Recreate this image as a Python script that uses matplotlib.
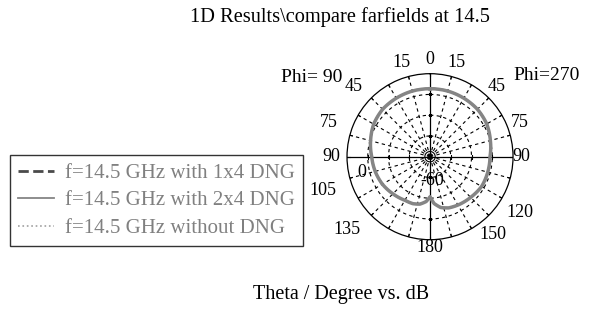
import numpy as np
import matplotlib
matplotlib.use("Agg")
import matplotlib.pyplot as plt

plt.rcParams['font.family'] = ['Liberation Serif', 'DejaVu Serif']

# theta (deg) and farfield level (dB), both half-planes
theta = [0, 15, 30, 45, 60, 75, 90, 105, 120, 135, 150, 160, 168, 175, 180]
phi270_db = [5.5, 5.5, 5.1, 4.6, 3.1, 0.2, -2.2, -2.4, -2.6, -4.6, -6.2, -7.5, -9.9, -14.7, -21.4]
phi90_db = [5.5, 5.5, 5.1, 4.6, 2.7, -0.7, -3.8, -5.3, -7.0, -9.4, -11.5, -11.8, -13.3, -16.6, -21.4]

labels = ["f=14.5 GHz with 1x4 DNG", "f=14.5 GHz with 2x4 DNG", "f=14.5 GHz without DNG"]
styles = [("--", "#4a4a4a", 1.5), ("-", "#858585", 2.5), (":", "#a0a0a0", 1.2)]
legend_lw = [2.0, 1.3, 1.2]

angle_labels = ["0", "15", "15", "45", "45", "75", "75", "90", "90",
                "105", "120", "135", "150", "180"]
angle_pos = [(0, 33.5), (343.2, 34.6), (15.9, 34.2), (312.3, 40.2), (43.6, 33.2),
             (288.6, 42.7), (69.3, 32.7), (270, 34.8), (90, 28.4),
             (252.5, 48), (121.9, 42.2), (228.8, 46.8), (141, 36.7), (180, 27.7)]

rmin, rmax = -60, 20

fig = plt.figure(figsize=(5.94, 3.13), dpi=100)
ax = fig.add_axes([0.5842, 0.2342, 0.2795, 0.5304], projection="polar")
ax.set_theta_zero_location("N")
ax.set_theta_direction(-1)
ax.set_ylim(rmin, rmax)
ax.grid(False)
ax.set_xticks([])
ax.set_yticks([])
ax.spines["polar"].set_linewidth(0.9)

# dashed grid
full = np.linspace(0, 2 * np.pi, 361)
dash = (0, (3, 3))
for rr in [-40, -20, 0]:
    ax.plot(full, np.full_like(full, rr), ls=dash, color="k", lw=0.8)
for a in range(0, 360, 15):
    if a % 90:
        ax.plot([np.radians(a)] * 2, [rmin, rmax], ls=dash, color="k", lw=0.8)
    ax.plot([np.radians(a)] * 2, [rmax - 2.5, rmax], color="k", lw=0.8)
# solid axes through the centre
for a in [0, 90, 180, 270]:
    ax.plot([np.radians(a)] * 2, [rmin, rmax], color="k", lw=0.9)
for a, m in [(0, "_"), (180, "_"), (90, "|"), (270, "|")]:
    ax.plot([np.radians(a)] * 3, [-40, -20, 0], ls="none", marker=m, ms=3,
            color="k", mew=0.8)
ax.plot(full, np.full_like(full, -55), color="k", lw=0.8)

# curves: right side phi=270 (clockwise), left side phi=90
th = np.array(theta, dtype=float)
ang = np.radians(np.concatenate([th, 360 - th[::-1]]))
vals = np.concatenate([phi270_db, phi90_db[::-1]])
for i in [0, 2, 1]:
    ls, c, lw = styles[i]
    ln, = ax.plot(ang, vals, ls=ls, color=c, lw=lw, label=labels[i],
                  zorder=5 + (i == 1))
    ln.get_path()._interpolation_steps = 40   # draw segments as polar arcs

for t, (a, r) in zip(angle_labels, angle_pos):
    ax.text(np.radians(a), r, t, ha="center", va="center", fontsize=13, clip_on=False)
ax.text(np.radians(256.6), 7.7, "0", ha="center", va="center", fontsize=13)
ax.text(np.radians(175), -37.4, "-60", ha="center", va="center", fontsize=13)

fig.text(281 / 594, 1 - 77 / 313, "Phi= 90", ha="left", va="center", fontsize=14)
fig.text(513 / 594, 1 - 75 / 313, "Phi=270", ha="left", va="center", fontsize=14)

fig.text(340 / 594, 1 - 17 / 313, "1D Results\\compare farfields at 14.5",
         ha="center", va="center", fontsize=14.7)
fig.text(341 / 594, 1 - 295 / 313, "Theta / Degree vs. dB",
         ha="center", va="center", fontsize=14.5)

handles, labs = ax.get_legend_handles_labels()
idx = [labs.index(l) for l in labels]
leg = fig.legend([handles[i] for i in idx], labels, loc="upper left",
                 bbox_to_anchor=(10 / 594, 1 - 155 / 313), borderaxespad=0,
                 fontsize=15, frameon=True, fancybox=False, edgecolor="k",
                 handlelength=1.7, handletextpad=0.55, labelspacing=0.38,
                 borderpad=0.4, labelcolor="#808080")
leg.get_frame().set_linewidth(1.0)
for ln, w in zip(leg.get_lines(), legend_lw):
    ln.set_linewidth(w)

fig.savefig("out.png", dpi=100)
